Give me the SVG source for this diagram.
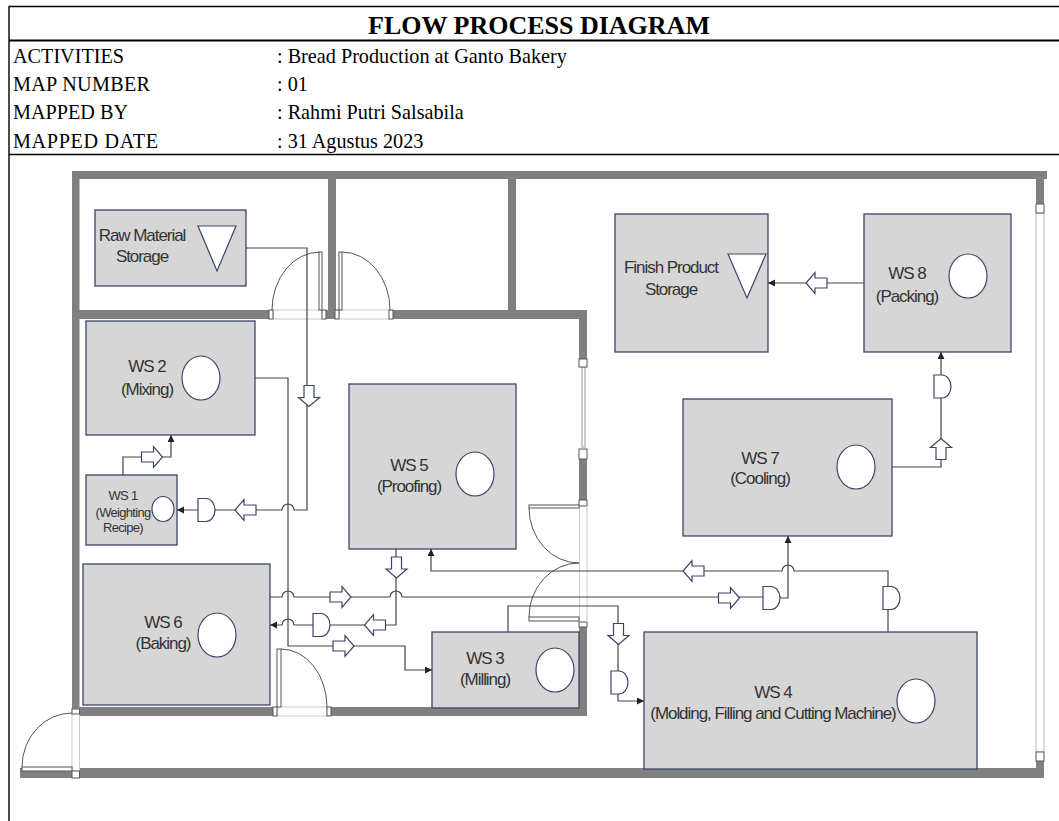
<svg xmlns="http://www.w3.org/2000/svg" width="1059" height="821" viewBox="0 0 1059 821">
<style>
.h{font-family:"Liberation Serif","Times New Roman",serif;font-size:20.2px;fill:#000}
.t{font-family:"Liberation Sans",Arial,sans-serif;font-size:17px;fill:#333;text-anchor:middle;letter-spacing:-1.05px}
.s{font-size:13px;letter-spacing:-.7px}
.box{fill:#d6d6d6;stroke:#3c4468;stroke-width:1.3}
.sym{fill:#fff;stroke:#3c4468;stroke-width:1.2}
.wall{fill:#808080}
.c{fill:none;stroke:#444;stroke-width:1.2}
.d{fill:#fff;stroke:#555;stroke-width:1}
.arc{fill:none;stroke:#555;stroke-width:1}
.win{fill:#fff;stroke:#999;stroke-width:1}
.line{stroke:#000;stroke-width:1.4}
</style>
<defs>
<marker id="a" markerWidth="8" markerHeight="8" refX="7" refY="3.500" orient="auto" markerUnits="userSpaceOnUse"><path d="M0 0L7 3.500L0 7z" fill="#222"/></marker>
<path id="ba" d="M-10.500-5H1.500V-10.500L10.500 0L1.500 10.500V5H-10.500z" fill="#fff" stroke="#3c4468" stroke-width="1.2"/>
<path id="dl" d="M0-11.500H8A9 11.500 0 0 1 8 11.500H0z" fill="#fff" stroke="#3c4468" stroke-width="1.2"/>
</defs>
<rect width="1059" height="821" fill="#fff"/>
<g id="header">
<path class="line" d="M9 821V6.500H1059M9 154.500H1059" fill="none"/>
<path d="M9 40.500H1059" stroke="#000" stroke-width="1.8"/>
<text x="539" y="34" text-anchor="middle" style="font-family:'Liberation Serif',serif;font-weight:bold;font-size:26px">FLOW PROCESS DIAGRAM</text>
<text class="h" x="13" y="62.500">ACTIVITIES</text><text class="h" x="277" y="62.500">: Bread Production at Ganto Bakery</text>
<text class="h" x="13" y="90.500" textLength="137">MAP NUMBER</text><text class="h" x="277" y="90.500">: 01</text>
<text class="h" x="13" y="118.500">MAPPED BY</text><text class="h" x="277" y="118.500">: Rahmi Putri Salsabila</text>
<text class="h" x="13" y="147.500" textLength="145">MAPPED DATE</text><text class="h" x="277" y="147.500">: 31 Agustus 2023</text>
</g>
<g id="walls">
<rect class="wall" x="72" y="171" width="975" height="8"/>
<rect class="wall" x="72" y="171" width="7.500" height="538"/>
<rect class="wall" x="328" y="171" width="8" height="140"/>
<rect class="wall" x="508" y="171" width="8" height="140"/>
<rect class="wall" x="76" y="310" width="511" height="9"/>
<rect class="wall" x="1036" y="171" width="8" height="33"/>
<rect class="wall" x="579" y="310" width="8" height="49"/>
<rect class="wall" x="579" y="459" width="8" height="41"/>
<rect class="wall" x="579" y="627" width="8" height="89"/>
<rect class="wall" x="76" y="707" width="511" height="9"/>
<rect class="wall" x="20" y="768" width="1024" height="10"/>
<rect class="wall" x="1036" y="761" width="8" height="10"/>
<rect x="273" y="310" width="49" height="9" fill="#fff" stroke="#ccc"/>
<rect x="339" y="310" width="51" height="9" fill="#fff" stroke="#ccc"/>
<rect class="d" x="269" y="310" width="4" height="9"/><rect class="d" x="322" y="310" width="4" height="9"/>
<rect class="d" x="335" y="310" width="4" height="9"/><rect class="d" x="389" y="310" width="4" height="9"/>
<rect class="d" x="319" y="252" width="3" height="58"/><rect class="d" x="339" y="252" width="3" height="58"/>
<path class="arc" d="M272 310A48 58 0 0 1 320 252M342 252A48 58 0 0 1 390 310"/>
<rect x="277" y="707" width="50" height="9" fill="#fff" stroke="#ccc"/>
<rect class="d" x="273" y="707" width="4" height="9"/><rect class="d" x="327" y="707" width="4" height="9"/>
<rect class="d" x="277" y="649" width="4" height="58"/>
<path class="arc" d="M281 649A46 58 0 0 1 327 707"/>
<rect x="72" y="709" width="7.500" height="62" fill="#fff" stroke="#ccc"/>
<rect class="d" x="72" y="709" width="7.500" height="5"/><rect class="d" x="72" y="771" width="7.500" height="7"/>
<rect class="d" x="22" y="767" width="50" height="4"/>
<path class="arc" d="M22 767A50 54 0 0 1 72 713"/>
<rect x="579" y="367" width="8" height="80" fill="#fff" stroke="none"/>
<rect x="582" y="367" width="3" height="80" class="win"/>
<rect class="d" x="579" y="359" width="8" height="8"/><rect class="d" x="579" y="449" width="8" height="10"/>
<rect class="d" x="579" y="500" width="8" height="6"/>
<rect class="d" x="579" y="622" width="8" height="5"/>
<path d="M579.500 506V622M587 506V622" stroke="#ccc" fill="none"/>
<rect class="d" x="529" y="505" width="50" height="3"/><rect class="d" x="529" y="617" width="50" height="4"/>
<path class="arc" d="M529 508A50 55 0 0 0 579 563A50 54 0 0 0 529 617"/>
<rect x="1036" y="213" width="8" height="539" fill="#fff" stroke="#bbb"/>
<rect class="d" x="1036" y="204" width="8" height="9"/><rect class="d" x="1036" y="752" width="8" height="9"/>
</g>
<g id="connectors">
<path class="c" marker-end="url(#a)" d="M246 248H307V510H294A6 6 0 0 0 282 510H177"/>
<path class="c" marker-end="url(#a)" d="M123 475V457H171V435"/>
<path class="c" marker-end="url(#a)" d="M255 378H288V646H405V670H432"/>
<path class="c" d="M270 597H282A6 6 0 0 1 294 597H390A6 6 0 0 1 402 597H781"/>
<path class="c" marker-end="url(#a)" d="M781 598H788V536"/>
<path class="c" marker-end="url(#a)" d="M888 632V571H794A6 6 0 0 0 782 571H431V549"/>
<path class="c" marker-end="url(#a)" d="M396 549V625H294A6 6 0 0 0 282 625H270"/>
<path class="c" marker-end="url(#a)" d="M508 632V606H618V701H644"/>
<path class="c" marker-end="url(#a)" d="M892 467H941V352"/>
<path class="c" marker-end="url(#a)" d="M864 283H768"/>
<use href="#ba" transform="translate(309 396) rotate(90)"/>
<use href="#ba" transform="translate(245.500 510) rotate(180)"/>
<use href="#dl" x="198" y="510"/>
<use href="#ba" transform="translate(152 457)"/>
<use href="#ba" transform="translate(343.500 646)"/>
<use href="#ba" transform="translate(340.500 597)"/>
<use href="#dl" x="313" y="625"/>
<use href="#ba" transform="translate(375 625) rotate(180)"/>
<use href="#ba" transform="translate(396.500 567.500) rotate(90)"/>
<use href="#ba" transform="translate(729 598)"/>
<use href="#dl" x="763" y="598"/>
<use href="#dl" x="883" y="598"/>
<use href="#ba" transform="translate(693.500 571) rotate(180)"/>
<use href="#ba" transform="translate(618.500 634) rotate(90)"/>
<use href="#dl" x="611" y="682.500"/>
<use href="#ba" transform="translate(941 449) rotate(-90)"/>
<use href="#dl" x="934" y="386.500"/>
<use href="#ba" transform="translate(816.500 283) rotate(180)"/>
</g>
<g id="raw"><rect class="box" x="95" y="210" width="151" height="76"/><path class="sym" d="M198 226H236L217 271z"/><text class="t" x="142" y="241">Raw Material</text><text class="t" x="142" y="262">Storage</text></g>
<g id="ws2"><rect class="box" x="86" y="321" width="169" height="114"/><ellipse class="sym" cx="201" cy="378" rx="19" ry="22"/><text class="t" x="147" y="372">WS 2</text><text class="t" x="147" y="395">(Mixing)</text></g>
<g id="ws1"><rect class="box" x="86" y="475" width="91" height="70"/><ellipse class="sym" cx="163" cy="509" rx="11" ry="12.500"/><text class="t s" x="123" y="500">WS 1</text><text class="t s" x="123" y="517">(Weighting</text><text class="t s" x="123" y="532">Recipe)</text></g>
<g id="ws6"><rect class="box" x="83" y="564" width="187" height="141"/><ellipse class="sym" cx="217" cy="635" rx="19" ry="22"/><text class="t" x="163" y="628">WS 6</text><text class="t" x="163" y="649">(Baking)</text></g>
<g id="ws5"><rect class="box" x="349" y="384" width="167" height="165"/><ellipse class="sym" cx="475" cy="474" rx="19" ry="22"/><text class="t" x="409" y="471">WS 5</text><text class="t" x="409" y="492">(Proofing)</text></g>
<g id="ws3"><rect class="box" x="432" y="632" width="147" height="76"/><ellipse class="sym" cx="555" cy="670" rx="19" ry="22"/><text class="t" x="485" y="664">WS 3</text><text class="t" x="485" y="685">(Milling)</text></g>
<g id="ws4"><rect class="box" x="644" y="632" width="333" height="137"/><ellipse class="sym" cx="916" cy="701" rx="19" ry="22"/><text class="t" x="773" y="698">WS 4</text><text class="t" x="773" y="719">(Molding, Filling and Cutting Machine)</text></g>
<g id="ws7"><rect class="box" x="683" y="399" width="209" height="137"/><ellipse class="sym" cx="856" cy="467" rx="19" ry="22"/><text class="t" x="760" y="464">WS 7</text><text class="t" x="760" y="484">(Cooling)</text></g>
<g id="ws8"><rect class="box" x="864" y="214" width="147" height="138"/><ellipse class="sym" cx="968" cy="276" rx="19" ry="22"/><text class="t" x="907" y="279">WS 8</text><text class="t" x="907" y="302">(Packing)</text></g>
<g id="finish"><rect class="box" x="615" y="214" width="153" height="138"/><path class="sym" d="M728 254H766L747 298z"/><text class="t" x="671" y="273">Finish Product</text><text class="t" x="671" y="295">Storage</text></g>
</svg>
